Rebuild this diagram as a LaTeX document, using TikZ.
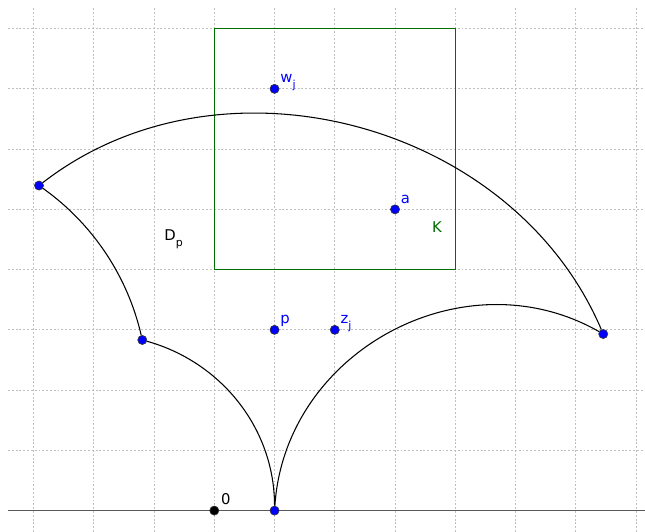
\documentclass[tikz,border=0pt]{standalone}
\usepackage{fontspec}
\setmainfont{DejaVu Sans}
\usetikzlibrary{positioning,calc}
\definecolor{ptblue}{RGB}{0,0,255}
\definecolor{kgreen}{RGB}{0,110,0}
\newcommand{\lsub}[1]{\raisebox{-2.6pt}{\fontsize{5.2}{6}\selectfont #1}}
\tikzset{
  pt/.style={circle,draw=black!80,fill=ptblue,line width=0.3pt,inner sep=0pt,minimum size=4.3pt},
  lbl/.style={inner sep=0pt,anchor=base west,text=ptblue},
  geo/.style={line width=0.5pt},
  gridline/.style={black!25,line width=0.35pt,dash pattern=on 0.9pt off 0.9pt},
}

\begin{document}
\begin{tikzpicture}[font=\fontsize{7}{8}\selectfont]
  \useasboundingbox (-3.557,-0.355) rectangle (7.149,8.475);
  % grid and real axis
  \foreach \x in {-3,...,7}
    \draw[gridline] (\x,-0.355) -- (\x,8.375);
  \foreach \y in {1,...,8}
    \draw[gridline] (-3.424,\y) -- (7.149,\y);
  \draw[black!65,line width=0.7pt] (-3.424,0) -- (7.149,0);
  % the square K
  \coordinate (k1) at (0,4);
  \coordinate (k2) at (4,8);
  \draw[kgreen,line width=0.5pt] (k1) rectangle (k2);
  \node[kgreen,inner sep=0pt,anchor=base west] (lK) at (3.608,4.619) {K};
  % vertices of D_p
  \node[pt,fill=black] (o) at (0,0) {};
  \node[pt] (q) at (1,0) {};
  \node[pt] (v1) at (-2.909,5.395) {};
  \node[pt] (v2) at (-1.195,2.832) {};
  \node[pt] (v3) at (6.456,2.931) {};
  \draw[geo] (q) to[out=90,in=-15.6,looseness=0.95] (v2);
  \draw[geo] (v2) to[out=103,in=-35.5,looseness=0.88] (v1);
  \draw[geo] (v1) to[out=37.8,in=113.1,looseness=1.0] (v3);
  \draw[geo] (q) to[out=86.2,in=150.3,looseness=1.08] (v3);
  % marked points
  \node[pt] (w) at (1,7) {};
  \node[pt] (p) at (1,3) {};
  \node[pt] (z) at (2,3) {};
  \node[pt] (a) at (3,5) {};
  \node[lbl] (lw) at ($(w)+(0.09,0.1)$) {w\lsub{j}};
  \node[lbl] (lp) at ($(p)+(0.09,0.1)$) {p};
  \node[lbl] (lz) at ($(z)+(0.09,0.1)$) {z\lsub{j}};
  \node[lbl] (la) at ($(a)+(0.09,0.1)$) {a};
  \node[inner sep=0pt,anchor=base west] (lD) at (-0.834,4.48) {D\lsub{p}};
  \node[inner sep=0pt,anchor=base west] (lo) at (0.106,0.093) {0};
\end{tikzpicture}
\end{document}
